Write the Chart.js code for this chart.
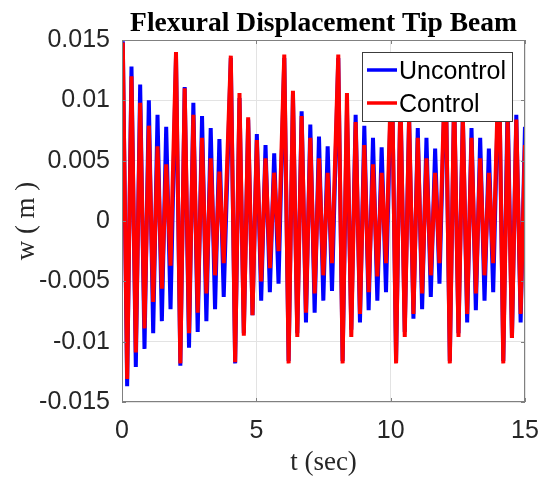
<!DOCTYPE html>
<html>
<head>
<meta charset="utf-8">
<script src="https://cdn.jsdelivr.net/npm/chart.js@4.4.0/dist/chart.umd.min.js"></script>
<style>
    html, body { margin: 0; padding: 0; background: #fff; }
    #wrap { width: 542px; height: 479px; }
</style>
</head>
<body>
<div id="wrap"><canvas id="tipChart" width="542" height="479"></canvas></div>
<script>
const seriesNames = ["Uncontrol", "Control"];
const xTicks = [0, 5, 10, 15];
const yTicks = [-0.015, -0.01, -0.005, 0, 0.005, 0.01, 0.015];

// start of each burst (sec); inside a burst peaks and troughs alternate every halfCycle
const burstStart = [0.03, 2.01, 4.05, 6.04, 8.05, 10.04, 12.04, 14.03];
const halfCycle = 0.1615;

// peak / trough values, one row per burst
const uncontrol = [
    [0.0149, -0.0137, 0.0128, -0.0121, 0.0113, -0.0106, 0.0100, -0.0093, 0.0088, -0.0083, 0.0078, -0.0073],
    [0.0136, -0.0120, 0.0111, -0.0105, 0.0098, -0.0092, 0.0087, -0.0083, 0.0077, -0.0073, 0.0068, -0.0063],
    [0.0135, -0.0118, 0.0102, -0.0093, 0.0084, -0.0078, 0.0072, -0.0066, 0.0063, -0.0059, 0.0056, -0.0052],
    [0.0135, -0.0116, 0.0105, -0.0093, 0.0091, -0.0084, 0.0080, -0.0076, 0.0070, -0.0066, 0.0062, -0.0058],
    [0.0135, -0.0116, 0.0092, -0.0090, 0.0088, -0.0084, 0.0079, -0.0074, 0.0069, -0.0066, 0.0061, -0.0059],
    [0.0135, -0.0116, 0.0103, -0.0092, 0.0086, -0.0081, 0.0077, -0.0073, 0.0069, -0.0063, 0.0060, -0.0052],
    [0.0135, -0.0116, 0.0103, -0.0093, 0.0088, -0.0084, 0.0077, -0.0074, 0.0069, -0.0066, 0.0060, -0.0059],
    [0.0135, -0.0116, 0.0100, -0.0097, 0.0088, -0.0084, 0.0078],
];
const control = [
    [0.0148, -0.0131, 0.0120, -0.0109, 0.0098, -0.0089, 0.0079, -0.0067, 0.0062, -0.0056, 0.0047, -0.0037],
    [0.0140, -0.0118, 0.0110, -0.0093, 0.0088, -0.0076, 0.0069, -0.0060, 0.0052, -0.0045, 0.0041, -0.0035],
    [0.0137, -0.0117, 0.0106, -0.0095, 0.0086, -0.0078, 0.0067, -0.0050, 0.0052, -0.0039, 0.0040, -0.0025],
    [0.0138, -0.0118, 0.0108, -0.0096, 0.0087, -0.0076, 0.0069, -0.0060, 0.0052, -0.0045, 0.0040, -0.0035],
    [0.0138, -0.0118, 0.0106, -0.0096, 0.0082, -0.0077, 0.0063, -0.0059, 0.0047, -0.0046, 0.0040, -0.0035],
    [0.0138, -0.0118, 0.0106, -0.0096, 0.0086, -0.0077, 0.0069, -0.0060, 0.0052, -0.0045, 0.0040, -0.0035],
    [0.0138, -0.0118, 0.0106, -0.0096, 0.0086, -0.0077, 0.0069, -0.0060, 0.0052, -0.0045, 0.0040, -0.0035],
    [0.0138, -0.0118, 0.0086, -0.0097, 0.0084, -0.0077, 0.0063],
];

function buildPoints(bursts) {
    const pts = [{ x: 0, y: 0 }];
    bursts.forEach((vals, b) => {
        vals.forEach((v, k) => pts.push({ x: burstStart[b] + k * halfCycle, y: v }));
    });
    return pts;
}

// matlab style box, inward ticks and boxed legend
const frameAndLegend = {
    id: "frameAndLegend",
    afterDatasetsDraw(chart) {
        const { ctx, chartArea: a, scales } = chart;
        ctx.save();
        ctx.strokeStyle = "#808080";
        ctx.lineWidth = 1;
        ctx.strokeRect(a.left + 0.5, a.top + 0.5, a.width - 1, a.height - 1);
        ctx.beginPath();
        xTicks.forEach((v) => {
            const x = Math.round(scales.x.getPixelForValue(v)) + 0.5;
            ctx.moveTo(x, a.bottom); ctx.lineTo(x, a.bottom - 4);
            ctx.moveTo(x, a.top); ctx.lineTo(x, a.top + 4);
        });
        yTicks.forEach((v) => {
            const y = Math.round(scales.y.getPixelForValue(v)) + 0.5;
            ctx.moveTo(a.left, y); ctx.lineTo(a.left + 4, y);
            ctx.moveTo(a.right, y); ctx.lineTo(a.right - 4, y);
        });
        ctx.stroke();

        const w = 150, h = 69;
        const lx = a.right - 13 - w, ly = a.top + 12;
        ctx.fillStyle = "#fff";
        ctx.fillRect(lx, ly, w, h);
        ctx.strokeStyle = "#3c3c3c";
        ctx.strokeRect(lx + 0.5, ly + 0.5, w, h);
        ctx.font = "25px 'Liberation Sans', Arial, sans-serif";
        ctx.textBaseline = "middle";
        ctx.textAlign = "left";
        chart.data.datasets.forEach((ds, i) => {
            const rowY = ly + 18 + i * 33;
            ctx.strokeStyle = ds.borderColor;
            ctx.lineWidth = 3.5;
            ctx.beginPath();
            ctx.moveTo(lx + 5, rowY);
            ctx.lineTo(lx + 35, rowY);
            ctx.stroke();
            ctx.fillStyle = "#000";
            ctx.fillText(ds.label, lx + 37, rowY + 2.5);
        });
        ctx.restore();
    },
};

function renderTipChart() {
    const ctx = document.getElementById("tipChart").getContext("2d");
    const tickFont = { family: "'Liberation Sans', Arial, sans-serif", size: 25 };
    const labelFont = { family: "'Liberation Serif', 'Times New Roman', serif", size: 27 };

    new Chart(ctx, {
        type: "line",
        data: {
            datasets: [
                {
                    label: seriesNames[0],
                    data: buildPoints(uncontrol),
                    borderColor: "#0000ff",
                    borderWidth: 4,
                    pointRadius: 0,
                    tension: 0,
                    order: 2,
                },
                {
                    label: seriesNames[1],
                    data: buildPoints(control),
                    borderColor: "#ff0000",
                    borderWidth: 4,
                    pointRadius: 0,
                    tension: 0,
                    order: 1,
                },
            ],
        },
        options: {
            responsive: false,
            animation: false,
            devicePixelRatio: 1,
            layout: { padding: { left: 0, right: 17, top: 0, bottom: 0 } },
            plugins: {
                legend: { display: false },
                tooltip: { enabled: false },
                title: {
                    display: true,
                    fullSize: false,
                    text: "Flexural Displacement Tip Beam",
                    color: "#000",
                    font: { family: labelFont.family, size: 27.5, weight: "bold" },
                    padding: { top: 7.5, bottom: -0.5 },
                },
            },
            scales: {
                x: {
                    type: "linear",
                    min: 0,
                    max: 15,
                    afterFit: (s) => {
                        s.height = 77;
                        s.paddingLeft = 0;
                        s.paddingRight = 0;
                    },
                    afterBuildTicks: (s) => { s.ticks = xTicks.map((v) => ({ value: v })); },
                    ticks: { font: tickFont, color: "#262626", padding: 14, maxRotation: 0 },
                    grid: { color: "#e3e3e3", drawTicks: false },
                    border: { display: false },
                    title: {
                        display: true,
                        text: "t (sec)",
                        color: "#262626",
                        font: labelFont,
                        padding: { top: 0, bottom: 0 },
                    },
                },
                y: {
                    type: "linear",
                    min: -0.015,
                    max: 0.015,
                    afterFit: (s) => {
                        s.width = 122;
                        s.paddingTop = 0;
                        s.paddingBottom = 0;
                    },
                    afterBuildTicks: (s) => { s.ticks = yTicks.map((v) => ({ value: v })); },
                    ticks: {
                        font: tickFont,
                        color: "#262626",
                        padding: 12,
                        callback: (v) => String(+v.toFixed(3)),
                    },
                    grid: { color: "#e3e3e3", drawTicks: false },
                    border: { display: false },
                    title: {
                        display: true,
                        text: "w ( m )",
                        color: "#262626",
                        font: labelFont,
                        padding: { top: 11, bottom: 0 },
                    },
                },
            },
        },
        plugins: [frameAndLegend],
    });
}

document.addEventListener("DOMContentLoaded", renderTipChart);
</script>
</body>
</html>
